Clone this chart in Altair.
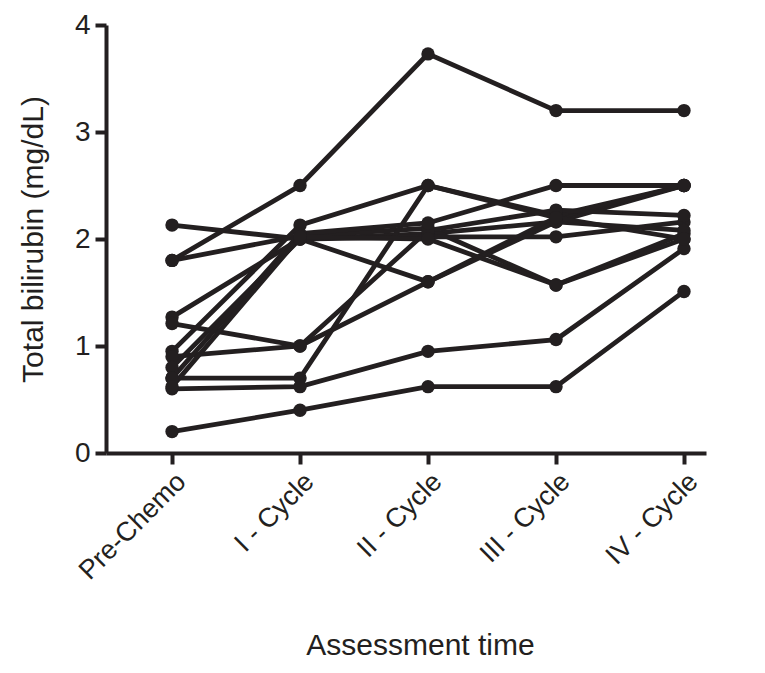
import altair as alt
import pandas as pd

timepoints = ["Pre-Chemo", "I - Cycle", "II - Cycle", "III - Cycle", "IV - Cycle"]

p1 = [2.13, 2.00, 2.05, 2.16, 2.50]
p2 = [1.80, 2.50, 3.73, 3.20, 3.20]
p3 = [1.80, 2.03, 2.10, 1.57, 2.05]
p4 = [1.27, 2.00, 2.02, 2.02, 2.16]
p5 = [1.21, 1.00, 1.60, 2.20, 2.50]
p6 = [0.95, 2.13, 2.50, 2.22, 2.50]
p7 = [0.90, 1.00, 2.08, 2.27, 2.22]
p8 = [0.80, 2.00, 1.60, 2.16, 2.08]
p9 = [0.70, 2.05, 2.15, 2.50, 2.50]
p10 = [0.70, 0.70, 2.50, 2.20, 2.00]
p11 = [0.60, 0.62, 0.95, 1.06, 1.91]
p12 = [0.20, 0.40, 0.62, 0.62, 1.51]
p13 = [0.62, 2.02, 2.00, 1.57, 2.00]

patients = [p1, p2, p3, p4, p5, p6, p7, p8, p9, p10, p11, p12, p13]

rows = []
for i, vals in enumerate(patients):
    for t, v in zip(timepoints, vals):
        rows.append({"patient": f"P{i+1}", "time": t, "bilirubin": v})
df = pd.DataFrame(rows)

ink = "#231f20"
font = "Liberation Sans"

x = alt.X(
    "time:N",
    sort=timepoints,
    scale=alt.Scale(type="point", domain=timepoints, padding=0.344, align=0.75),
    axis=alt.Axis(
        title="Assessment time",
        titleFontSize=30,
        titleFont=font,
        titleFontWeight="normal",
        titleColor=ink,
        titlePadding=47,
        titleX=314,
        labelAngle=-45,
        labelFontSize=27,
        labelFont=font,
        labelColor=ink,
        labelPadding=4,
        domainColor=ink,
        domainWidth=4,
        tickColor=ink,
        tickWidth=4,
        tickSize=11,
        grid=False,
    ),
)
y = alt.Y(
    "bilirubin:Q",
    scale=alt.Scale(domain=[0, 4], nice=False),
    axis=alt.Axis(
        title="Total bilirubin (mg/dL)",
        titleFontSize=30,
        titleFont=font,
        titleFontWeight="normal",
        titleColor=ink,
        titlePadding=26,
        values=[0, 1, 2, 3, 4],
        format="d",
        labelFontSize=28,
        labelFont=font,
        labelColor=ink,
        labelPadding=5,
        domainColor=ink,
        domainWidth=4,
        tickColor=ink,
        tickWidth=4,
        tickSize=11,
        grid=False,
    ),
)

lines = alt.Chart(df).mark_line(color=ink, strokeWidth=4.8).encode(
    x=x, y=y, detail="patient:N"
)
points = alt.Chart(df).mark_circle(color=ink, opacity=1, size=180).encode(
    x=x, y=y, detail="patient:N"
)

chart = (
    alt.layer(lines, points)
    .properties(
        width=600,
        height=428,
        background="white",
        padding={"left": 10, "top": 3, "right": 5, "bottom": 5},
    )
    .configure_view(stroke=None)
)

chart.save("out.html", embed_options={"renderer": "svg", "actions": False})
